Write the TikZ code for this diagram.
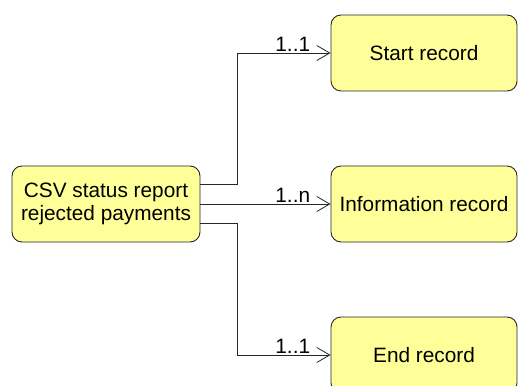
\documentclass[tikz,border=0pt]{standalone}
\usepackage{fontspec}
\setmainfont{Liberation Sans}
\usetikzlibrary{arrows.meta}
\begin{document}
\begin{tikzpicture}[x=1pt,y=1pt,
  rec/.style={draw=black!85, fill={rgb,255:red,255;green,255;blue,153}, rounded corners=10pt, line width=0.9pt, inner sep=0pt, font=\fontsize{20.8}{23.5}\selectfont, align=center},
  conn/.style={draw=black!85, line width=0.9pt, -{Straight Barb[length=13pt,width=15pt,line width=0.8pt]}},
  card/.style={font=\fontsize{20.8}{22}\selectfont, inner sep=1pt, anchor=south east}
]
\useasboundingbox (0,0) rectangle (518,385);
\clip (0,0) rectangle (518,385);
\node[rec, minimum width=188pt, minimum height=76pt] (src) at (106,181) {CSV status report\\rejected payments};
\node[rec, minimum width=186pt, minimum height=76pt] (start) at (424,332) {Start record};
\node[rec, minimum width=186pt, minimum height=76pt] (info) at (424,181) {Information record};
\node[rec, minimum width=186pt, minimum height=76pt] (end) at (424,30) {End record};
\coordinate (j) at (237,0);
\draw[conn] ([yshift=20pt]src.east) -| (j |- start.west) -- (start.west) node[card, xshift=-19pt] (l1) {1..1};
\draw[conn] (src.east) -- (info.west) node[card, xshift=-19pt] (l2) {1..n};
\draw[conn] ([yshift=-19pt]src.east) -| (j |- end.west) -- (end.west) node[card, xshift=-19pt] (l3) {1..1};
\end{tikzpicture}
\end{document}
